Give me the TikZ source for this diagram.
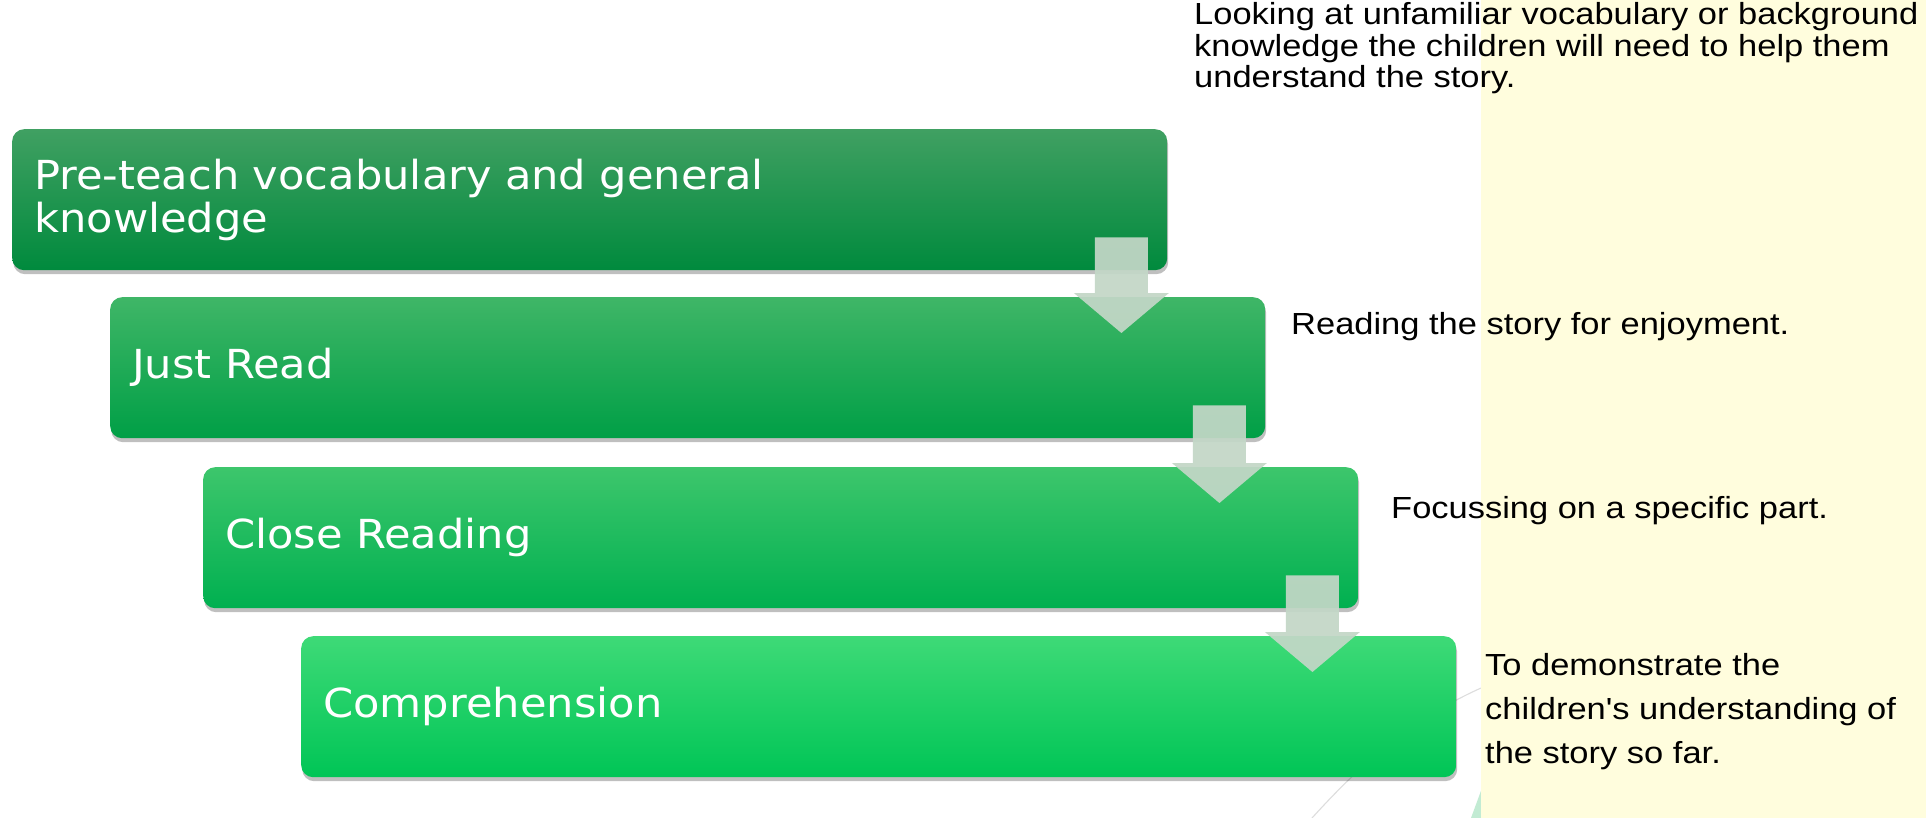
\documentclass[tikz,border=0pt]{standalone}
\usepackage{fontspec}
\newfontfamily\boxfont[FakeStretch=1.08]{DejaVu Sans}
\newfontfamily\sidefont[FakeStretch=1.13]{Liberation Sans}
\usetikzlibrary{calc,shadows}
\definecolor{bandyellow}{HTML}{FFFDDD}
\definecolor{mint}{HTML}{C2EBD3}
\definecolor{decogrey}{HTML}{DDDDDD}
\definecolor{arrowfill}{RGB}{195,215,199}
\definecolor{gAtop}{HTML}{40A062}\definecolor{gAbot}{HTML}{008A3D}
\definecolor{gBtop}{HTML}{3FB667}\definecolor{gBbot}{HTML}{009F46}
\definecolor{gCtop}{HTML}{3DC66C}\definecolor{gCbot}{HTML}{00B050}
\definecolor{gDtop}{HTML}{3EDA77}\definecolor{gDbot}{HTML}{00C556}
\newcommand\stagearrow[2]{%
  \coordinate (#1top) at ($(#1.south east)+(-46,33)$);
  \coordinate (#1tip) at ($(#1top |- #2.north)+(0,-36)$);
  \fill[flowarrow] ($(#1top)+(-26.5,0)$) -- ($(#1tip)+(-26.5,40)$) -- ($(#1tip)+(-47.5,40)$) -- (#1tip)
    -- ($(#1tip)+(47.5,40)$) -- ($(#1tip)+(26.5,40)$) -- ($(#1top)+(26.5,0)$) -- cycle;}
\begin{document}
\begin{tikzpicture}[x=1pt,y=1pt,
  stage/.style={rounded corners=12pt, minimum width=1155pt, minimum height=141pt,
    inner xsep=22pt, inner ysep=0pt, text width=1111pt, align=left, anchor=north west,
    text=white, font=\boxfont\fontsize{40}{43}\selectfont,
    drop shadow={shadow xshift=1pt, shadow yshift=-4pt, opacity=0.25, fill=black}},
  flowarrow/.style={fill=arrowfill, fill opacity=0.93},
  side/.style={inner sep=0pt, anchor=base west, text=black, font=\sidefont\fontsize{30.5}{31}\selectfont},
  decoline/.style={draw=decogrey, line width=1.1pt}
]
\useasboundingbox (0,0) rectangle (1926,-818);
\fill[white] (0,0) rectangle (1926,-818);
% background decoration
\draw[decoline] (1312,-818) .. controls (1360,-765) and (1410,-720) .. (1481,-688);
\fill[mint] (1471,-818) -- (1482,-788) -- (1482,-818) -- cycle;
\fill[bandyellow] (1481,0) rectangle (1926,-818);
% stages
\node[stage, top color=gAtop, bottom color=gAbot] (b1) at (12,-129) {Pre-teach vocabulary and general\\knowledge};
\node[stage, top color=gBtop, bottom color=gBbot] (b2) at (110,-297) {Just Read};
\node[stage, top color=gCtop, bottom color=gCbot] (b3) at (203,-467) {Close Reading};
\node[stage, top color=gDtop, bottom color=gDbot] (b4) at (301,-636) {Comprehension};
% arrows
\stagearrow{b1}{b2}
\stagearrow{b2}{b3}
\stagearrow{b3}{b4}
% descriptions
\node[side] (d1) at (1194,-25) {\begin{tabular}[t]{@{}l@{}}Looking at unfamiliar vocabulary or background\\ knowledge the children will need to help them\\ understand the story.\end{tabular}};
\node[side] (d2) at (1291,-334) {Reading the story for enjoyment.};
\node[side] (d3) at (1391,-518) {Focussing on a specific part.};
\node[side, font=\sidefont\fontsize{30.5}{44}\selectfont] (d4) at (1485,-675) {\begin{tabular}[t]{@{}l@{}}To demonstrate the\\ children's understanding of\\ the story so far.\end{tabular}};
\end{tikzpicture}
\end{document}
